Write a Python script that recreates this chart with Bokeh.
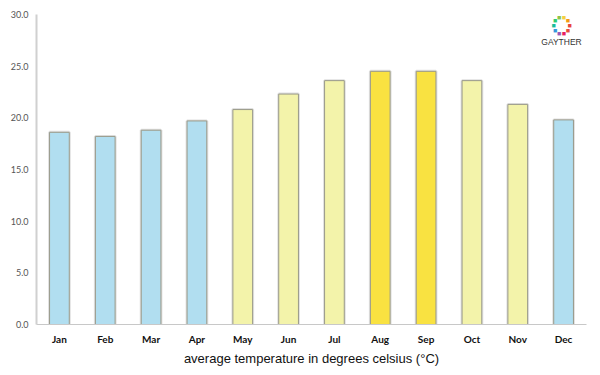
import math
from bokeh.plotting import figure
from bokeh.models import ColumnDataSource, Range1d, FixedTicker, Label, PrintfTickFormatter
from bokeh.embed import file_html
from bokeh.resources import INLINE

months = ["Jan", "Feb", "Mar", "Apr", "May", "Jun", "Jul", "Aug", "Sep", "Oct", "Nov", "Dec"]
temps = [18.6, 18.2, 18.8, 19.7, 20.8, 22.3, 23.6, 24.5, 24.5, 23.6, 21.3, 19.8]
colors = ["#b1def0", "#b1def0", "#b1def0", "#b1def0",
          "#f3f3aa", "#f3f3aa", "#f3f3aa", "#f9e241", "#f9e241",
          "#f3f3aa", "#f3f3aa", "#b1def0"]
y_ticks = [0, 5, 10, 15, 20, 25, 30]
x_title = "average temperature in degrees celsius (°C)"

src = ColumnDataSource(dict(m=months, t=temps, c=colors))

p = figure(x_range=months, y_range=Range1d(0, 30), width=594, height=368,
           output_backend="svg", toolbar_location=None,
           min_border_left=36, min_border_right=8, min_border_top=14, min_border_bottom=43)
p.x_range.range_padding = 0
p.outline_line_color = None
p.grid.grid_line_color = None

# subtle shadow then bars
p.vbar(x="m", top="t", width=0.43, source=src, fill_color=None,
       line_color="#cccccc", line_width=3, line_alpha=0.6)
p.vbar(x="m", top="t", width=0.43, source=src, fill_color="c",
       line_color="#9a9a8a", line_width=1)

p.yaxis.ticker = FixedTicker(ticks=y_ticks)
p.yaxis.formatter = PrintfTickFormatter(format="%.1f")
p.yaxis.major_tick_line_color = None
p.yaxis.minor_tick_line_color = None
p.yaxis.major_tick_out = 0
p.yaxis.axis_line_color = "#d0d0d0"
p.yaxis.axis_line_width = 2
p.yaxis.major_label_text_color = "#555555"
p.yaxis.major_label_text_font = "Lato"
p.yaxis.major_label_text_font_size = "9px"
p.yaxis.major_label_standoff = 8

p.xaxis.major_tick_line_color = None
p.xaxis.minor_tick_line_color = None
p.xaxis.major_tick_out = 0
p.xaxis.axis_line_color = "#c8c8c8"
p.xaxis.axis_line_width = 1
p.xaxis.major_label_text_color = "#111111"
p.xaxis.major_label_text_font = "Lato"
p.xaxis.major_label_text_font_style = "bold"
p.xaxis.major_label_text_font_size = "10px"
p.xaxis.major_label_standoff = 8
p.xaxis.axis_label = x_title
p.xaxis.axis_label_text_font = "Liberation Sans"
p.xaxis.axis_label_text_font_style = "normal"
p.xaxis.axis_label_text_font_size = "13px"
p.xaxis.axis_label_text_color = "#111111"
p.xaxis.axis_label_standoff = 3

# logo (screen units relative to the plot frame's bottom-left)
ring_cols = ["#e8453c", "#f39c12", "#f4d03f", "#8bc34a", "#2ecc71", "#1abc9c",
             "#3498db", "#9b59b6", "#e91e63", "#e74c3c"]
for i, col in enumerate(ring_cols):
    a = 2 * math.pi * i / len(ring_cols)
    p.add_layout(Label(x=525 + 8 * math.cos(a), y=299 + 8 * math.sin(a),
                       x_units="screen", y_units="screen", text="■",
                       text_color=col, text_font_size="7px",
                       text_align="center", text_baseline="middle"))
p.add_layout(Label(x=525, y=283, x_units="screen", y_units="screen", text="GAYTHER",
                   text_color="#333333", text_font_size="8.5px", text_font="Liberation Sans",
                   text_align="center", text_baseline="middle"))

open("out.html", "w").write(file_html(p, INLINE))
